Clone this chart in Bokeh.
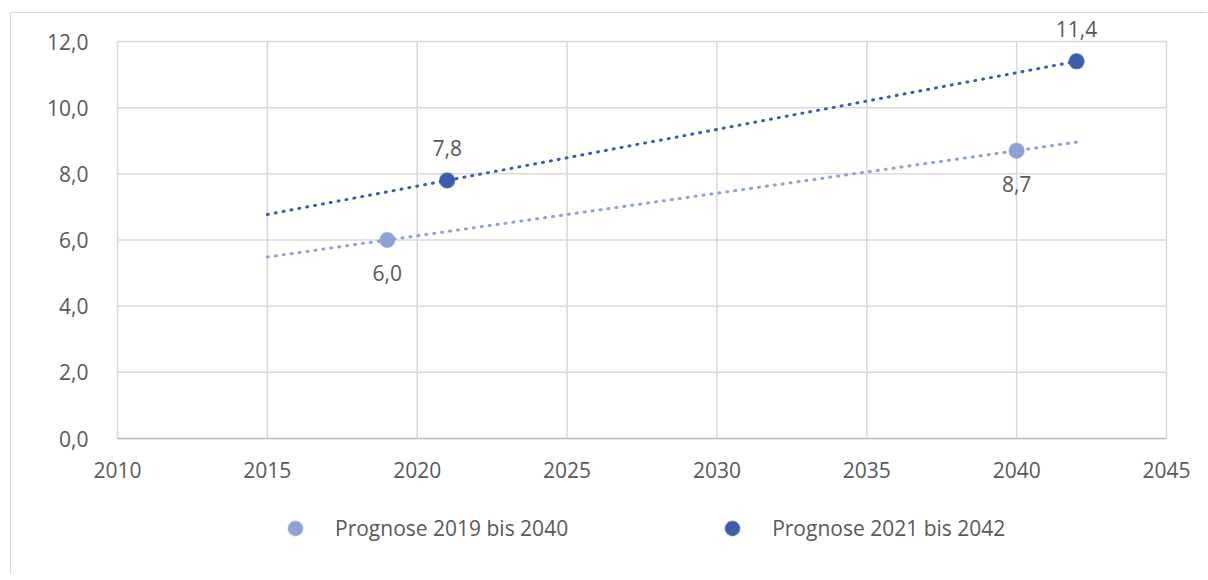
import numpy as np
from bokeh.plotting import figure
from bokeh.models import (ColumnDataSource, LabelSet, Legend, LegendItem,
                          CustomJSTickFormatter, FixedTicker, Range1d)
from bokeh.embed import file_html
from bokeh.resources import INLINE
from bokeh.core.properties import value

# ---- data ----
series_names = ["Prognose 2019 bis 2040", "Prognose 2021 bis 2042"]
years_2019 = [2019, 2040]
values_2019 = [6.0, 8.7]
years_2021 = [2021, 2042]
values_2021 = [7.8, 11.4]
trend_start = 2015
trend_end = 2042
x_ticks = [2010, 2015, 2020, 2025, 2030, 2035, 2040, 2045]
y_ticks = [0, 2, 4, 6, 8, 10, 12]

FONT = "Open Sans"
FS = "21px"
TXT = "#595959"
GRID = "#d9d9d9"
LIGHT = "#8fa2d5"
DARK = "#3b5eab"

X0, X1 = x_ticks[0], x_ticks[-1]
Y0, Y1 = y_ticks[0], y_ticks[-1]

# layout (pixels): value span 0..12 -> 397px, 2010..2045 -> 1049px;
# the frame is padded so the edge year labels, the top data label
# and the legend stay inside it
SPAN_Y, TOP_PX, BOTTOM_PX = 397, 24, 122
SPAN_X, LEFT_PX, RIGHT_PX = 1049, 25, 27
PXY = SPAN_Y / (Y1 - Y0)
PXX = SPAN_X / (X1 - X0)
y_lo = Y0 - BOTTOM_PX / PXY
y_hi = Y1 + TOP_PX / PXY
x_lo = X0 - LEFT_PX / PXX
x_hi = X1 + RIGHT_PX / PXX

p = figure(width=1197, height=562, output_backend="svg", toolbar_location=None,
           x_range=Range1d(x_lo, x_hi), y_range=Range1d(y_lo, y_hi),
           x_axis_location=None,
           min_border_left=81, min_border_top=4, min_border_right=15,
           min_border_bottom=15)
p.styles = {"margin-left": "10px", "margin-top": "12px",
            "border-left": "1px solid #d9d9d9", "border-top": "1px solid #d9d9d9"}
p.outline_line_color = None
p.background_fill_color = "white"
p.border_fill_color = "white"
p.xgrid.visible = False
p.ygrid.visible = False

yax = p.yaxis[0]
yax.ticker = FixedTicker(ticks=y_ticks)
yax.major_tick_line_color = None
yax.minor_tick_line_color = None
yax.axis_line_color = None
yax.major_label_text_font = FONT
yax.major_label_text_font_size = FS
yax.major_label_text_color = TXT
yax.major_label_standoff = -2
yax.formatter = CustomJSTickFormatter(code="return tick.toFixed(1).replace('.', ',');")

# grid lines limited to the 2010..2045 x 0..12 value area
p.segment(x0=x_ticks, y0=[Y0] * len(x_ticks), x1=x_ticks, y1=[Y1] * len(x_ticks),
          line_color=GRID, line_width=1.5)
p.segment(x0=[X0] * len(y_ticks), y0=y_ticks, x1=[X1] * len(y_ticks), y1=y_ticks,
          line_color=GRID, line_width=1.5)
p.segment(x0=[X0], y0=[Y0], x1=[X1], y1=[Y0], line_color="#bfbfbf", line_width=1.5)

# year labels under the value axis
p.text(x=x_ticks, y=[Y0] * len(x_ticks), text=[str(t) for t in x_ticks],
       y_offset=31, text_align="center", text_baseline="middle",
       text_font=value(FONT), text_font_size=FS, text_color=TXT)


def fmt(v):
    return f"{v:.1f}".replace(".", ",")


renderers = []
for xs, ys, col, off in ((years_2019, values_2019, LIGHT, -33),
                         (years_2021, values_2021, DARK, 32)):
    k, b = np.polyfit(xs, ys, 1)
    tx = [trend_start, trend_end]
    ty = [k * t + b for t in tx]
    p.line(tx, ty, line_color=col, line_width=3, line_dash="1 7", line_cap="round")
    src = ColumnDataSource(dict(x=xs, y=ys, lab=[fmt(v) for v in ys]))
    r = p.scatter("x", "y", source=src, size=15, fill_color=col, line_color=col,
                  line_alpha=0.6, line_width=1.5)
    renderers.append(r)
    p.add_layout(LabelSet(x="x", y="y", text="lab", source=src, y_offset=off,
                          text_align="center", text_baseline="middle",
                          text_font=value(FONT), text_font_size=FS,
                          text_color=TXT))

legend = Legend(items=[LegendItem(label=n, renderers=[r]) for n, r in zip(series_names, renderers)],
                orientation="horizontal", location=(160 + LEFT_PX, 14),
                glyph_width=36, glyph_height=36, label_standoff=22, spacing=146,
                padding=0, margin=0, border_line_color=None,
                background_fill_alpha=0,
                label_text_font=FONT, label_text_font_size=FS,
                label_text_color=TXT)
p.add_layout(legend, "center")

open("out.html", "w").write(file_html(p, INLINE))
